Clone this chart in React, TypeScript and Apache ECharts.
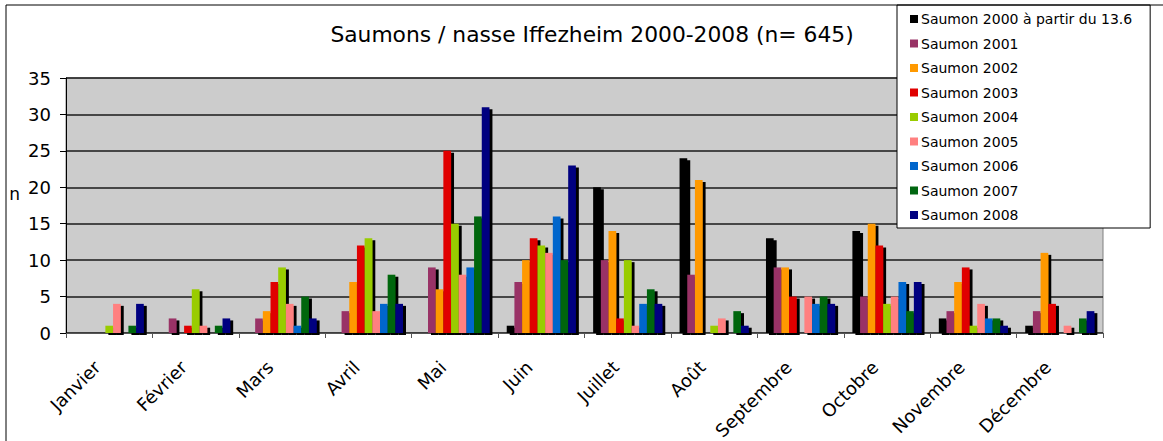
import React, { useEffect, useRef } from "react";
import * as echarts from "echarts";

const months = ["Janvier", "Février", "Mars", "Avril", "Mai", "Juin", "Juillet", "Août", "Septembre", "Octobre", "Novembre", "Décembre"];
const seriesNames = [
  "Saumon 2000 à partir du 13.6",
  "Saumon 2001",
  "Saumon 2002",
  "Saumon 2003",
  "Saumon 2004",
  "Saumon 2005",
  "Saumon 2006",
  "Saumon 2007",
  "Saumon 2008",
];
const s2000 = [0, 0, 0, 0, 0, 1, 20, 24, 13, 14, 2, 1];
const s2001 = [0, 2, 2, 3, 9, 7, 10, 8, 9, 5, 3, 3];
const s2002 = [0, 0, 3, 7, 6, 10, 14, 21, 9, 15, 7, 11];
const s2003 = [0, 1, 7, 12, 25, 13, 2, 0, 5, 12, 9, 4];
const s2004 = [1, 6, 9, 13, 15, 12, 10, 1, 0, 4, 1, 0];
const s2005 = [4, 1, 4, 3, 8, 11, 1, 2, 5, 5, 4, 1];
const s2006 = [0, 0, 1, 4, 9, 16, 4, 0, 4, 7, 2, 0];
const s2007 = [1, 1, 5, 8, 16, 10, 6, 3, 5, 3, 2, 2];
const s2008 = [4, 2, 2, 4, 31, 23, 4, 1, 4, 7, 1, 3];
const allData = [s2000, s2001, s2002, s2003, s2004, s2005, s2006, s2007, s2008];
const colors = ["#000000", "#993366", "#FF9900", "#E00000", "#99CC00", "#FF8080", "#0066CC", "#006611", "#000080"];
const yTicks = [0, 5, 10, 15, 20, 25, 30, 35];

const FONT = "DejaVu Sans";

export default function App() {
  const ref = useRef<HTMLDivElement>(null);
  useEffect(() => {
    if (!ref.current) return;
    const chart = echarts.init(ref.current, null, { renderer: "svg" });
    chart.setOption({
      animation: false,
      backgroundColor: "#ffffff",
      textStyle: { fontFamily: FONT },
      title: {
        text: "Saumons / nasse Iffezheim 2000-2008 (n= 645)",
        left: 587,
        textAlign: "center",
        top: 18,
        textStyle: { fontFamily: FONT, fontSize: 21.8, fontWeight: "normal", color: "#000" },
      },
      legend: {
        orient: "vertical",
        left: 897,
        top: 5,
        padding: [7, 18, 6, 13],
        backgroundColor: "#ffffff",
        borderColor: "#000",
        borderWidth: 1,
        itemWidth: 8,
        itemHeight: 8,
        itemGap: 10.5,
        icon: "rect",
        textStyle: { fontFamily: FONT, fontSize: 14, color: "#000", padding: [0, 0, 0, -2] },
        data: seriesNames,
        z: 10,
      },
      grid: {
        left: 66,
        top: 78,
        right: 60,
        bottom: 108,
        show: true,
        outerBoundsMode: "none",
        backgroundColor: "#CCCCCC",
        borderColor: "#808080",
        borderWidth: 1,
      },
      xAxis: {
        type: "category",
        data: months,
        axisLine: { lineStyle: { color: "#555", width: 1 } },
        axisTick: { show: true, length: 5, lineStyle: { color: "#555" } },
        axisLabel: {
          rotate: 45,
          fontFamily: FONT,
          fontSize: 18,
          color: "#000",
          margin: 19,
          interval: 0,
          formatter: (v: string) => v + "{g| }",
          rich: { g: { width: 17, fontSize: 18, fontFamily: FONT } },
        },
      },
      yAxis: {
        type: "value",
        min: 0,
        max: 35,
        interval: 5,
        name: "n",
        nameLocation: "middle",
        nameRotate: 0,
        nameGap: 46,
        nameTextStyle: { fontFamily: FONT, fontSize: 17, color: "#000", verticalAlign: "bottom", lineHeight: 17, padding: [0, 0, 3, 0] },
        axisLine: { show: true, lineStyle: { color: "#000", width: 1 } },
        axisTick: { show: true, length: 6, lineStyle: { color: "#000" } },
        axisLabel: {
          fontFamily: FONT,
          fontSize: 18,
          color: "#000",
          margin: 15,
          formatter: (v: number) => (yTicks.includes(v) ? String(v) : ""),
        },
        splitLine: { show: true, lineStyle: { color: "#1a1a1a", width: 1.5 } },
      },
      series: seriesNames.map((name, i) => ({
        name,
        type: "bar",
        data: allData[i],
        barGap: "0%",
        barCategoryGap: "20%",
        itemStyle: {
          color: colors[i],
          shadowColor: "#000",
          shadowOffsetX: 3,
          shadowOffsetY: 2,
          shadowBlur: 0,
        },
      })),
      graphic: [
        {
          type: "rect",
          shape: { x: 6, y: 5, width: 1200, height: 460 },
          style: { fill: "none", stroke: "#000", lineWidth: 1 },
          silent: true,
          z: 100,
        },
      ],
    });
    return () => chart.dispose();
  }, []);
  return <div ref={ref} style={{ position: "absolute", left: 0, top: 0, width: 1163, height: 441 }} />;
}
